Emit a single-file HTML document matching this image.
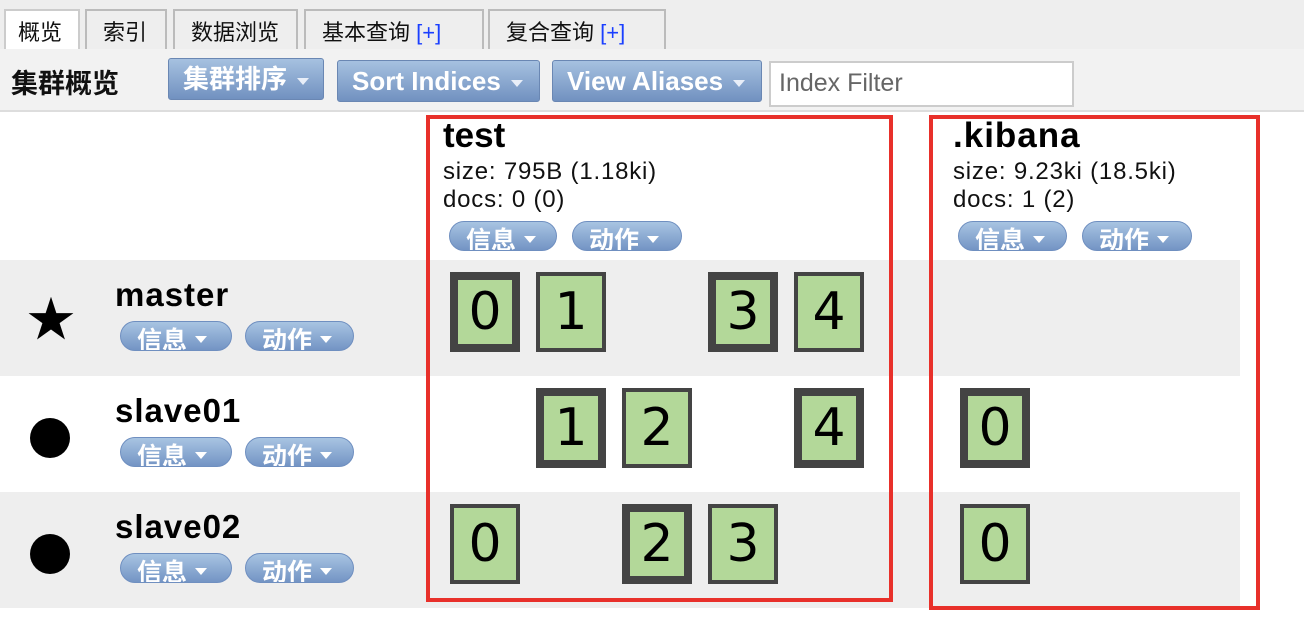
<!DOCTYPE html>
<html><head><meta charset="utf-8"><style>
*{margin:0;padding:0;box-sizing:border-box}
body{width:1304px;height:618px;position:relative;background:#fff;font-family:"Liberation Sans","Noto Sans CJK SC",sans-serif;overflow:hidden}
.a{position:absolute}
.tab{position:absolute;top:9px;height:40px;border:2px solid #bbb;border-bottom:none;background:#eee;font-size:22px;padding-left:16px;line-height:44px;color:#111;white-space:nowrap}
.btn{position:absolute;height:42px;border:1px solid #6a87b3;border-radius:3px;background:linear-gradient(#a6c1e0,#7191c0);color:#fff;font-weight:bold;font-size:26px;line-height:40px;padding-left:14px;white-space:nowrap}
.car{display:inline-block;width:0;height:0;border-left:6px solid transparent;border-right:6px solid transparent;border-top:7px solid #e8eef8;vertical-align:middle;margin-left:10px}
.pill{position:absolute;height:30px;border:1px solid #6f8fc0;border-radius:15px;background:linear-gradient(#a8c4e2,#7394c4);color:#fff;font-weight:bold;font-size:25px;line-height:38px;overflow:hidden;padding-left:16px;white-space:nowrap}
.pill .car{margin-left:8px;vertical-align:6px;border-top-color:#fff}
.row{position:absolute;left:0;width:1240px;height:116px}
.sh{position:absolute;width:70px;height:80px;background:#b3d899;font-family:"DejaVu Sans",sans-serif;font-size:52px;text-align:center;line-height:78px;color:#000}
.p{border:8px solid #444;line-height:64px}
.r{border:4px solid #444;line-height:72px}
.name{position:absolute;left:115px;font-weight:bold;font-size:33px;letter-spacing:1px}
.red{position:absolute;border:4px solid #e8302a}
.t{font-size:24px;color:#111;letter-spacing:0.8px}
</style></head><body>
<div class="a" style="left:0;top:0;width:1304px;height:49px;background:#eee"></div>
<div class="tab" style="left:4px;width:76px;background:#fff;border-color:#ccc;padding-left:12px">概览</div>
<div class="tab" style="left:85px;width:82px">索引</div>
<div class="tab" style="left:173px;width:125px">数据浏览</div>
<div class="tab" style="left:304px;width:180px">基本查询 <span style="color:#1a3fff">[+]</span></div>
<div class="tab" style="left:488px;width:178px">复合查询 <span style="color:#1a3fff">[+]</span></div>
<div class="a" style="left:0;top:49px;width:1304px;height:63px;background:#f2f2f2;border-bottom:2px solid #ddd"></div>
<div class="a" style="left:11px;top:62px;font-size:27px;font-weight:bold;color:#111">集群概览</div>
<div class="btn" style="left:168px;top:58px;width:156px">集群排序<span class="car"></span></div>
<div class="btn" style="left:337px;top:60px;width:203px">Sort Indices<span class="car"></span></div>
<div class="btn" style="left:552px;top:60px;width:210px">View Aliases<span class="car"></span></div>
<div class="a" style="left:769px;top:61px;width:305px;height:46px;background:#fff;border:2px solid #ccc;font-size:25px;color:#666;padding-left:8px;line-height:40px">Index Filter</div>

<div class="a" style="left:443px;top:116px;font-size:35px;font-weight:bold">test</div>
<div class="a t" style="left:443px;top:158px">size: 795B (1.18ki)</div>
<div class="a t" style="left:443px;top:186px">docs: 0 (0)</div>
<div class="pill" style="left:449px;top:221px;width:108px">信息<span class="car"></span></div>
<div class="pill" style="left:572px;top:221px;width:110px">动作<span class="car"></span></div>
<div class="a" style="left:953px;top:116px;font-size:35px;font-weight:bold;letter-spacing:1px">.kibana</div>
<div class="a t" style="left:953px;top:158px">size: 9.23ki (18.5ki)</div>
<div class="a t" style="left:953px;top:186px">docs: 1 (2)</div>
<div class="pill" style="left:958px;top:221px;width:109px">信息<span class="car"></span></div>
<div class="pill" style="left:1082px;top:221px;width:110px">动作<span class="car"></span></div>

<div class="row" style="top:260px;background:#eee"></div>
<div class="row" style="top:376px;background:#fff"></div>
<div class="row" style="top:492px;background:#eee"></div>

<div class="a" style="left:27px;top:294px;font-size:48px;line-height:54px">★</div>
<div class="a" style="left:30px;top:418px;width:40px;height:40px;border-radius:50%;background:#000"></div>
<div class="a" style="left:30px;top:534px;width:40px;height:40px;border-radius:50%;background:#000"></div>

<div class="name" style="top:276px">master</div>
<div class="pill" style="left:120px;top:321px;width:112px">信息<span class="car"></span></div>
<div class="pill" style="left:245px;top:321px;width:109px">动作<span class="car"></span></div>
<div class="name" style="top:392px">slave01</div>
<div class="pill" style="left:120px;top:437px;width:112px">信息<span class="car"></span></div>
<div class="pill" style="left:245px;top:437px;width:109px">动作<span class="car"></span></div>
<div class="name" style="top:508px">slave02</div>
<div class="pill" style="left:120px;top:553px;width:112px">信息<span class="car"></span></div>
<div class="pill" style="left:245px;top:553px;width:109px">动作<span class="car"></span></div>

<div class="sh p" style="left:450px;top:272px">0</div>
<div class="sh r" style="left:536px;top:272px">1</div>
<div class="sh p" style="left:708px;top:272px">3</div>
<div class="sh r" style="left:794px;top:272px">4</div>

<div class="sh p" style="left:536px;top:388px">1</div>
<div class="sh r" style="left:622px;top:388px">2</div>
<div class="sh p" style="left:794px;top:388px">4</div>
<div class="sh p" style="left:960px;top:388px">0</div>

<div class="sh r" style="left:450px;top:504px">0</div>
<div class="sh p" style="left:622px;top:504px">2</div>
<div class="sh r" style="left:708px;top:504px">3</div>
<div class="sh r" style="left:960px;top:504px">0</div>

<div class="red" style="left:426px;top:115px;width:467px;height:487px"></div>
<div class="red" style="left:929px;top:115px;width:331px;height:495px"></div>
</body></html>
